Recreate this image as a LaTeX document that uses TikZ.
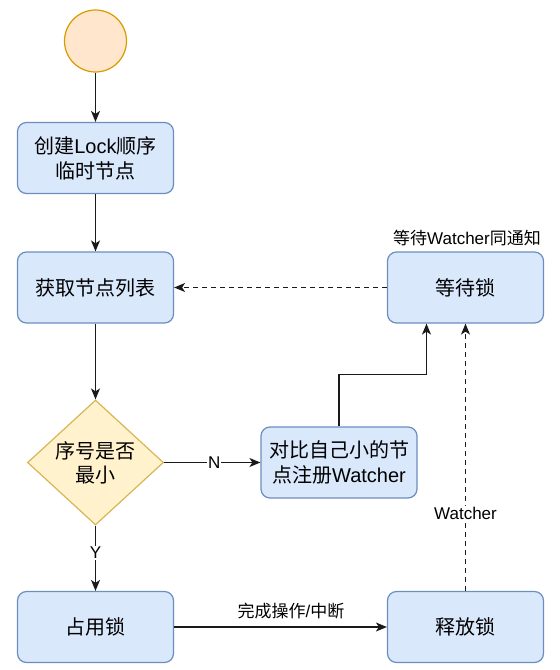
\documentclass[tikz,border=0pt]{standalone}
\usepackage{fontspec}
\setmainfont{Liberation Sans}
\newfontfamily\cjk{Noto Sans CJK SC}
\usetikzlibrary{arrows.meta,shapes.geometric}
\definecolor{bfill}{HTML}{DAE8FC}
\definecolor{bstroke}{HTML}{6C8EBF}
\definecolor{dfill}{HTML}{FFF2CC}
\definecolor{dstroke}{HTML}{D6B656}
\definecolor{cfill}{HTML}{FFE6CC}
\definecolor{cstroke}{HTML}{D79B00}
\definecolor{lcol}{HTML}{1A1A1A}
\begin{document}
\begin{tikzpicture}[x=1pt,y=-1pt,
  box/.style={draw=bstroke,fill=bfill,line width=1.2pt,rounded corners=9pt,minimum width=156pt,minimum height=71pt,inner sep=0pt,align=center,font=\fontsize{20}{25}\selectfont},
  arr/.style={draw=lcol,line width=1.5pt,-{Stealth[length=11pt,width=9pt,inset=3pt]}},
  dsh/.style={arr,dash pattern=on 4.5pt off 4.5pt},
  lbl/.style={fill=white,inner sep=1pt,font=\fontsize{17}{20}\selectfont},
]
\useasboundingbox (0,0) rectangle (560,670);
\node[circle,draw=cstroke,fill=cfill,line width=1.2pt,minimum size=62pt,inner sep=0pt] (c) at (95.5,41) {};
\node[box] (b1) at (95.5,158) {{\cjk 创建}Lock{\cjk 顺序}\\{\cjk 临时节点}};
\node[box] (b2) at (95.5,287.5) {{\cjk 获取节点列表}};
\node[diamond,draw=dstroke,fill=dfill,line width=1.2pt,minimum width=136pt,minimum height=125pt,inner sep=0pt,aspect=1.09] (d) at (95.5,462.5) {};
\node[align=center,font=\fontsize{20}{24}\selectfont] (dt) at (d.center) {{\cjk 序号是否}\\{\cjk 最小}};
\node[box] (b3) at (339,462.5) {{\cjk 对比自己小的节}\\{\cjk 点注册}Watcher};
\node[box] (b4) at (465.5,287.5) {{\cjk 等待锁}};
\node[box] (b5) at (95.5,627) {{\cjk 占用锁}};
\node[box] (b6) at (465.5,627) {{\cjk 释放锁}};
\node[font=\fontsize{17}{20}\selectfont,inner sep=0pt] (t4) at (467,238.5) {{\cjk 等待}Watcher{\cjk 同通知}};

\draw[arr] (c) -- (b1);
\draw[arr] (b1) -- (b2);
\draw[arr] (b2) -- (d);
\draw[arr] (d) -- node[lbl,pos=0.52] (ln) {N} (b3);
\draw[arr] (d) -- node[lbl,pos=0.42] (ly) {Y} (b5);
\coordinate (k) at (339,374.5);
\draw[arr] (b3.north) -- (k) -| ([xshift=-39pt]b4.south);
\draw[arr] (b5) -- (b6);
\node[lbl,fill=none] (l56) at (291,611.5) {{\cjk 完成操作}/{\cjk 中断}};
\draw[dsh] (b6.north) -- node[lbl,pos=0.29] (lw) {Watcher} (b4.south);
\draw[dsh] (b4) -- (b2);
\end{tikzpicture}
\end{document}
